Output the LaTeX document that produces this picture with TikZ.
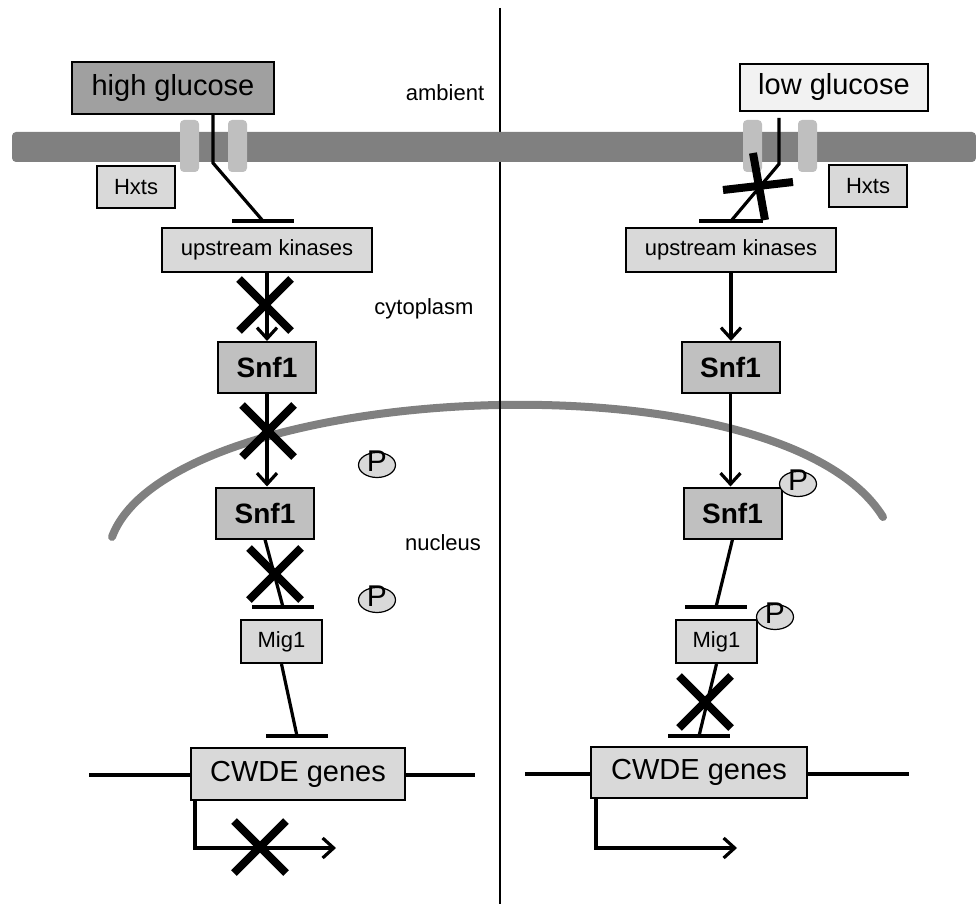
\documentclass[tikz,border=0pt]{standalone}
\usepackage{fontspec}
\setmainfont{Liberation Sans}
\usetikzlibrary{shapes.geometric, arrows.meta}
\definecolor{membgray}{HTML}{808080}
\definecolor{padgray}{HTML}{BFBFBF}
\definecolor{darkfill}{HTML}{A0A0A0}
\definecolor{midfill}{HTML}{C0C0C0}
\definecolor{lightfill}{HTML}{D9D9D9}
\definecolor{palefill}{HTML}{F2F2F2}

\tikzset{
  box/.style={draw, line width=1pt, inner sep=0pt},
  bigbox/.style={box, font=\fontsize{14.5}{16}\selectfont},
  smallbox/.style={box, fill=lightfill, font=\fontsize{11}{13}\selectfont},
  snfbox/.style={box, fill=midfill, minimum width=49pt, minimum height=25.5pt, font=\bfseries\fontsize{14}{16}\selectfont},
  tag/.style={font=\fontsize{11}{13}\selectfont, inner sep=0pt},
  pmark/.style={ellipse, draw, line width=0.6pt, fill=lightfill, minimum width=18.5pt, minimum height=12.5pt, inner sep=0pt, text height=6.85pt, text depth=-3.85pt, font=\fontsize{15}{15}\selectfont},
  link/.style={line width=1.6pt},
  act/.style={link, -{Straight Barb[length=5.5pt, width=10pt]}},
  inhbar/.style={line width=2.2pt},
  blocked/.style={line width=4pt},
}

\begin{document}
\begin{tikzpicture}[x=0.5pt, y=-0.5pt]
  \useasboundingbox (0,0) rectangle (976,904);
  % nuclear envelope
  \draw[membgray, line width=4pt, line cap=round] (112,537) .. controls (170,380) and (780,350) .. (883,517);
  % divider
  \draw[line width=1pt] (500,8) -- (500,904);
  % plasma membrane and transporters
  \fill[membgray, rounded corners=2pt] (12,132) rectangle (976,162);
  \foreach \px in {180, 228, 743, 798}
    \fill[padgray, rounded corners=2pt] (\px,120) rectangle (\px+19,172);

  \node[bigbox, fill=darkfill, minimum width=101pt, minimum height=26pt] (hg) at (173,88) {high glucose};
  \node[bigbox, fill=palefill, minimum width=94pt, minimum height=23.5pt] (lg) at (834,87.5) {low glucose};
  \node[smallbox, minimum width=39pt, minimum height=21pt] (hx1) at (136,187) {Hxts};
  \node[smallbox, minimum width=39pt, minimum height=21pt] (hx2) at (868,186.5) {Hxts};
  \node[smallbox, minimum width=105pt, minimum height=22pt] (uk1) at (267,250) {upstream kinases};
  \node[smallbox, minimum width=105pt, minimum height=22pt] (uk2) at (731,250) {upstream kinases};
  \node[snfbox] (sa1) at (267,367.5) {Snf1};
  \node[snfbox] (sb1) at (265,513) {Snf1};
  \node[snfbox] (sa2) at (730.5,367.5) {Snf1};
  \node[snfbox] (sb2) at (732.5,513) {Snf1};
  \node[smallbox, minimum width=40.5pt, minimum height=21.5pt] (mg1) at (281.5,641.5) {Mig1};
  \node[smallbox, minimum width=40.5pt, minimum height=21.5pt] (mg2) at (716.5,641.5) {Mig1};

  % genes on the DNA
  \coordinate (g1w) at (89,775);
  \coordinate (g1e) at (475,775);
  \coordinate (g2w) at (525,774);
  \coordinate (g2e) at (909,774);
  \draw[link, line width=1.8pt] (g1w) -- (g1e);
  \draw[link, line width=1.8pt] (g2w) -- (g2e);
  \node[bigbox, fill=lightfill, minimum width=107pt, minimum height=26pt] (cw1) at (298,774) {CWDE genes};
  \node[bigbox, fill=lightfill, minimum width=108pt, minimum height=25.5pt] (cw2) at (699,772.5) {CWDE genes};

  \node[pmark] (p1) at (377,465) {P};
  \node[pmark] (p2) at (377,600) {P};
  \node[pmark] (p3) at (798,484) {P};
  \node[pmark] (p4) at (775,617) {P};

  \node[tag] (amb) at (445,93) {ambient};
  \node[tag] (cyt) at (424,309) {cytoplasm};
  \node[tag] (nuc) at (443,543) {nucleus};

  % glucose signalling through the membrane
  \coordinate (k1) at (213,163);
  \coordinate (i1) at (263,221);
  \draw[link] ([xshift=20pt]hg.south) -- (k1) -- (i1);
  \draw[inhbar] (i1) +(-31,0) -- +(31,0);
  \coordinate (k2) at (779,164);
  \coordinate (i2) at (731,221);
  \draw[link] ([xshift=-27.5pt, yshift=-3pt]lg.south) -- (k2) -- (i2);
  \draw[inhbar] (i2) +(-32,0) -- +(32,0);
  \draw[blocked] (753,153) -- (765,220);
  \draw[blocked] (723,190) -- (793,182);

  % kinase cascade
  \draw[act] (uk1) -- (sa1);
  \draw[act] (sa1.south) -- (sa1.south |- sb1.north);
  \draw[act] (uk2) -- (uk2 |- sa2.north);
  \draw[act] (sa2.south) -- (sa2.south |- sb2.north);

  % repression
  \coordinate (i3) at (283,607);
  \coordinate (i4) at (716,607);
  \coordinate (i5) at (297,736);
  \coordinate (i6) at (699,736);
  \draw[link] (sb1.south) -- (i3);
  \draw[link] (sb2.south) -- (i4);
  \draw[link] (mg1.south) -- (i5);
  \draw[link] (mg2.south) -- (i6);
  \foreach \b in {i3, i4, i5, i6}
    \draw[inhbar] (\b) +(-31,0) -- +(31,0);

  % transcription
  \coordinate (t1) at (336,848);
  \coordinate (t2) at (737,848);
  \draw[act] ([xshift=2.5pt]cw1.south west) |- (t1);
  \draw[act] ([xshift=3pt]cw2.south west) |- (t2);

  % blocked steps
  \foreach \cx/\cy in {265/305, 268/431, 275/574, 705/702, 260/847}
    \draw[blocked] (\cx-26,\cy-26) -- (\cx+26,\cy+26) (\cx-26,\cy+26) -- (\cx+26,\cy-26);
\end{tikzpicture}
\end{document}
